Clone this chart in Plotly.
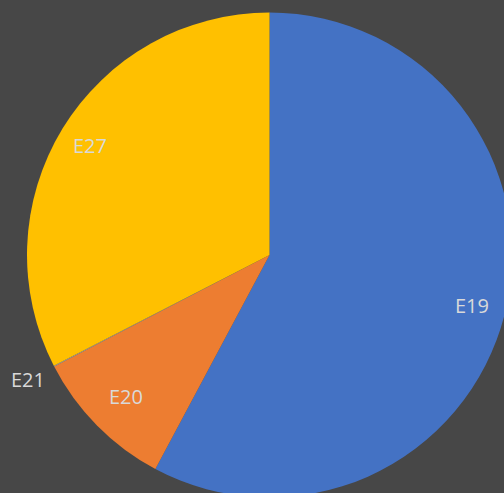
import math
import plotly.graph_objects as go

labels = ["E19", "E20", "E21", "E27"]
values = [57.8, 9.6, 0.05, 32.55]
colors = ["#4472C4", "#ED7D31", "#A5A5A5", "#FFC000"]
label_radius = [0.86, 0.83, 1.12, 0.866]  # fraction of pie radius for label centres

W, H = 540, 510
cx, cy, r = 269.5, 255.0, 242.5

fig = go.Figure(go.Pie(
    labels=labels,
    values=values,
    sort=False,
    direction="clockwise",
    rotation=0,
    marker=dict(colors=colors, line=dict(width=0)),
    textinfo="none",
    showlegend=False,
    hoverinfo="label+value",
    domain=dict(x=[(cx - r) / W, (cx + r) / W], y=[1 - (cy + r) / H, 1 - (cy - r) / H]),
))

total = sum(values)
cum = 0.0
for lab, v, f in zip(labels, values, label_radius):
    mid = (cum + v / 2) / total * 2 * math.pi
    cum += v
    px = cx + f * r * math.sin(mid)
    py = cy - f * r * math.cos(mid)
    fig.add_annotation(
        x=px / W, y=1 - py / H, xref="paper", yref="paper",
        text=lab, showarrow=False,
        font=dict(family="Open Sans", size=20, color="#D9D9D9"),
        xanchor="center", yanchor="middle",
    )

fig.update_layout(
    width=W, height=H,
    margin=dict(l=0, r=0, t=0, b=0),
    paper_bgcolor="#474747",
    plot_bgcolor="#474747",
)

fig.write_html(
    "out.html",
    config={"displayModeBar": False},
    post_script="document.body.style.margin='0';document.body.style.overflow='hidden';document.documentElement.style.overflow='hidden';document.body.style.background='#474747';",
)
